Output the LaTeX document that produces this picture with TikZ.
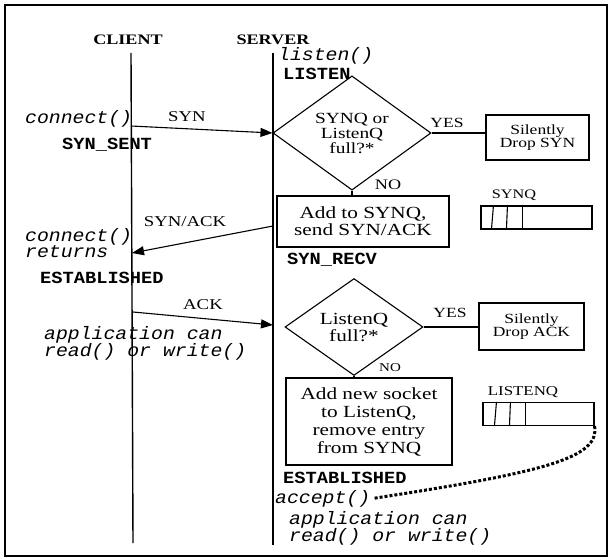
\documentclass[tikz,border=0pt]{standalone}
\usepackage{fontspec}
\newfontfamily\wserif[FakeStretch=1.25]{Liberation Serif}
\newfontfamily\wmono[FakeStretch=1.1]{Liberation Mono}
\usetikzlibrary{shapes.geometric,arrows.meta,calc,positioning}

\tikzset{
  lifeline/.style={line width=1.4pt},
  msg/.style={line width=1.1pt, -{Triangle[length=12pt,width=9pt]}},
  link/.style={line width=1.1pt},
  lbl/.style={font=\wserif\fontsize{15}{15}\selectfont, inner sep=0pt},
  small/.style={font=\wserif\fontsize{13}{13}\selectfont, inner sep=0pt},
  head/.style={font=\wserif\bfseries\fontsize{14.5}{14.5}\selectfont, inner sep=0pt},
  state/.style={font=\wmono\bfseries\fontsize{17}{17}\selectfont, anchor=base west, inner sep=0pt},
  call/.style={font=\wmono\itshape\fontsize{18}{16}\selectfont, anchor=base west, inner sep=0pt, align=left},
  decision/.style={diamond, draw, line width=1.1pt, inner sep=0pt, align=center},
  actbox/.style={rectangle, draw, line width=1.1pt, inner sep=0pt, align=center},
  queue/.style={rectangle, draw, line width=1.1pt, minimum width=111pt, minimum height=23pt, inner sep=0pt},
}

\begin{document}
\begin{tikzpicture}[x=1pt,y=-1pt]
    \useasboundingbox (0,0) rectangle (611,559);
    \draw[line width=2pt] (5,5) rectangle (607,556);

    % Headings and lifelines
    \node[head] (client) at (128,40) {CLIENT};
    \node[head] (server) at (273,40) {SERVER};
    \coordinate (ctop) at (131,53);
    \coordinate (cbot) at (133,543);
    \coordinate (stop) at (273,53);
    \coordinate (sbot) at (273,545);
    \draw[lifeline] (ctop) -- (cbot);
    \draw[lifeline] (stop) -- (sbot);

    % Server listens
    \node[call] (listen) at (278,61) {listen()};
    \node[state] (listenst) at (283,80) {LISTEN};

    % SYN
    \node[call] (connect) at (25,124) {connect()};
    \node[state] (synsent) at (62,150) {SYN\_SENT};
    \coordinate (syn0) at (131,126);
    \node[decision, minimum width=158pt, minimum height=110pt,
          font=\wserif\fontsize{15.5}{15}\selectfont] (synfull) at (352,133) {SYNQ or\\ListenQ\\full?*};
    \draw[msg] (syn0) -- (synfull.west);
    \node[lbl] (synlbl) at (187,117) {SYN};

    \node[actbox, minimum width=103pt, minimum height=45pt,
          font=\wserif\fontsize{14}{13.5}\selectfont] (dropsyn) at (537.5,137.5) {Silently\\Drop SYN};
    \draw[link] (synfull.east) -- (synfull.east -| dropsyn.west);
    \node[lbl, font=\wserif\fontsize{14}{14}\selectfont] (yes1) at (447,123) {YES};

    \node[actbox, minimum width=172pt, minimum height=51pt,
          font=\wserif\fontsize{17}{17}\selectfont] (addsyn) at (363,221.5) {Add to SYNQ,\\send SYN/ACK};
    \draw[link] (synfull.south) -- (synfull.south |- addsyn.north);
    \node[small, font=\wserif\fontsize{14.5}{14.5}\selectfont] (no1) at (388,185) {NO};
    \node[state] (synrecv) at (287,265) {SYN\_RECV};

    % SYN queue
    \node[small] (synqlbl) at (514,195) {SYNQ};
    \node[queue] (synq) at (536.5,217.5) {};
    \draw[link] ($(synq.north west)+(13,0)$) -- ($(synq.south west)+(11,0)$);
    \draw[link] ($(synq.north west)+(27,0)$) -- ($(synq.south west)+(26,0)$);
    \draw[link] ($(synq.north west)+(42,0)$) -- ($(synq.south west)+(42,0)$);

    % SYN/ACK
    \coordinate (sa0) at (273,226);
    \coordinate (sa1) at (132,253);
    \draw[msg] (sa0) -- (sa1);
    \node[lbl] (salbl) at (185,222) {SYN/ACK};
    \node[call, font=\wmono\itshape\fontsize{18}{15}\selectfont] (conret) at (25,258) {connect()\\returns};
    \node[state] (cest) at (40,283) {ESTABLISHED};

    % ACK
    \coordinate (ack0) at (133,312);
    \coordinate (ack1) at (273,325);
    \draw[msg] (ack0) -- (ack1);
    \node[lbl] (acklbl) at (203,305) {ACK};
    \node[call, font=\wmono\itshape\fontsize{18}{17}\selectfont] (capp) at (44,356) {application can\\read() or write()};

    \node[decision, minimum width=138pt, minimum height=79pt,
          font=\wserif\fontsize{17}{17}\selectfont] (lqfull) at (354,327) {ListenQ\\full?*};
    \node[actbox, minimum width=105pt, minimum height=47pt,
          font=\wserif\fontsize{14}{13.5}\selectfont] (dropack) at (531.5,326.5) {Silently\\Drop ACK};
    \draw[link] (lqfull.east) -- (lqfull.east -| dropack.west);
    \node[lbl, font=\wserif\fontsize{14}{14}\selectfont] (yes2) at (450,313) {YES};

    \node[actbox, minimum width=166pt, minimum height=87pt,
          font=\wserif\fontsize{17}{18}\selectfont] (addlq) at (369,421.5) {Add new socket\\to ListenQ,\\remove entry\\from SYNQ};
    \draw[link] (lqfull.south) -- (lqfull.south |- addlq.north);
    \node[small, font=\wserif\fontsize{12}{12}\selectfont] (no2) at (390,368) {NO};

    % Listen queue
    \node[small, font=\wserif\fontsize{13.5}{13.5}\selectfont] (lqlbl) at (523,392) {LISTENQ};
    \node[queue] (listenq) at (538.5,414) {};
    \draw[link] ($(listenq.north west)+(14,0)$) -- ($(listenq.south west)+(12,0)$);
    \draw[link] ($(listenq.north west)+(28,0)$) -- ($(listenq.south west)+(27,0)$);
    \draw[link] ($(listenq.north west)+(43,0)$) -- ($(listenq.south west)+(43,0)$);

    % Accept
    \node[state] (sest) at (283,483) {ESTABLISHED};
    \node[call] (accept) at (275,503) {accept()};
    \node[call, font=\wmono\itshape\fontsize{18}{17}\selectfont] (sapp) at (289,541) {application can\\read() or write()};
    \draw[line width=3pt, dash pattern=on 3pt off 2pt]
        (listenq.south east) .. controls (600,458) and (545,472) .. ($(accept.east)+(3,0)$);
\end{tikzpicture}
\end{document}
